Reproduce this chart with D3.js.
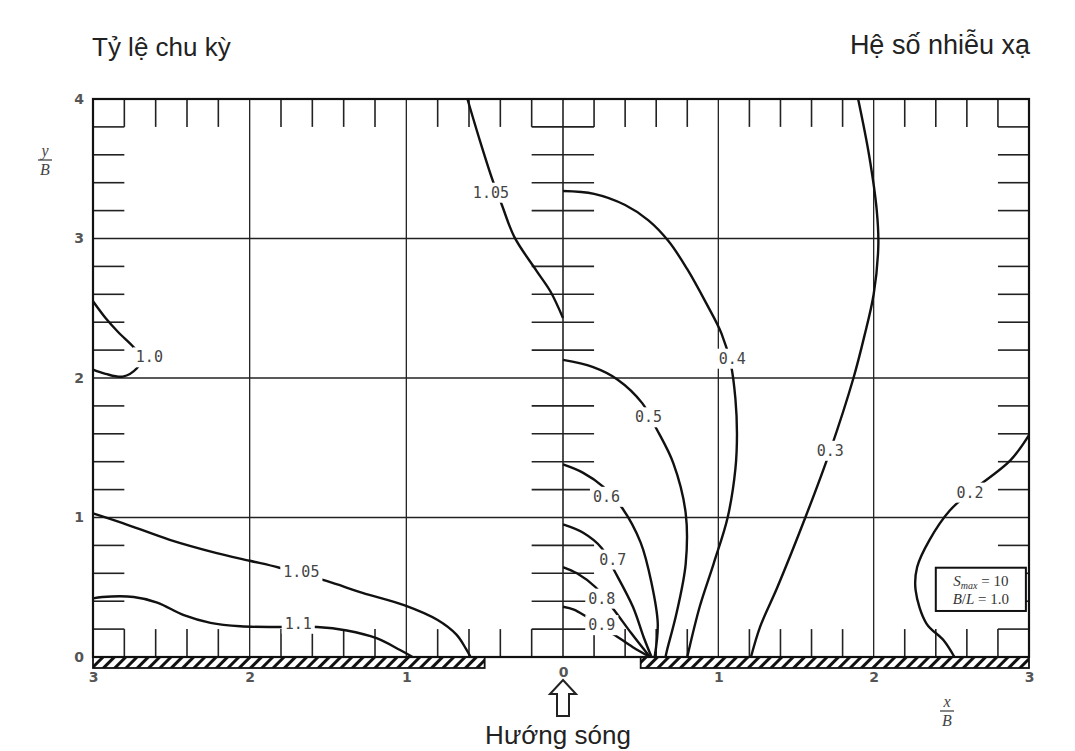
<!DOCTYPE html>
<html>
<head>
<meta charset="utf-8">
<script src="https://cdn.jsdelivr.net/npm/d3@7"></script>
<style>
  body { margin: 0; background: #fff; }
  svg { display: block; }
</style>
</head>
<body>
<script>
// size of the page
var width = 1075
var height = 751

// tick labels
var yTicks = [0, 1, 2, 3, 4]
var xTicks = [-3, -2, -1, 0, 1, 2, 3]

// contour lines (x/B, y/B), left half is negative x
// left half: period ratio
var c105top = [[-0.61,4.0],[-0.53,3.7],[-0.45,3.42],[-0.39,3.24],[-0.31,3.01],[-0.17,2.77],[-0.08,2.62],[0,2.43]]
var c100 = [[-3.0,2.55],[-2.92,2.43],[-2.84,2.33],[-2.74,2.22],[-2.69,2.14],[-2.72,2.07],[-2.81,2.01],[-2.92,2.03],[-3.0,2.06]]
var c105low = [[-3.0,1.03],[-2.81,0.96],[-2.51,0.84],[-2.21,0.745],[-2.0,0.69],[-1.81,0.64],[-1.51,0.545],[-1.28,0.46],[-1.01,0.37],[-0.80,0.265],[-0.68,0.16],[-0.62,0.06],[-0.59,0]]
var c110 = [[-3.0,0.42],[-2.94,0.43],[-2.74,0.43],[-2.59,0.39],[-2.42,0.30],[-2.25,0.245],[-2.06,0.22],[-1.81,0.215],[-1.57,0.215],[-1.38,0.19],[-1.19,0.135],[-1.04,0.05],[-0.96,0]]
// right half: diffraction coefficient
var c04 = [[0,3.34],[0.2,3.32],[0.4,3.24],[0.55,3.13],[0.68,2.98],[0.8,2.78],[0.92,2.54],[1.02,2.32],[1.08,2.1],[1.11,1.85],[1.12,1.6],[1.11,1.35],[1.06,1.0],[0.97,0.67],[0.88,0.36],[0.80,0]]
var c05 = [[0,2.13],[0.19,2.08],[0.35,1.99],[0.51,1.82],[0.60,1.64],[0.71,1.39],[0.79,1.03],[0.79,0.67],[0.73,0.31],[0.67,0.05],[0.66,0]]
var c06 = [[0,1.38],[0.13,1.32],[0.26,1.22],[0.38,1.07],[0.50,0.82],[0.57,0.53],[0.61,0.24],[0.59,0]]
var c07 = [[0,0.95],[0.13,0.89],[0.25,0.78],[0.33,0.62],[0.45,0.36],[0.52,0.14],[0.57,0]]
var c08 = [[0,0.645],[0.09,0.60],[0.21,0.50],[0.32,0.35],[0.44,0.17],[0.56,0]]
var c09 = [[0,0.36],[0.07,0.34],[0.15,0.29],[0.33,0.16],[0.45,0.07],[0.56,0]]
var c03 = [[1.90,4.0],[1.97,3.6],[2.02,3.2],[2.03,2.95],[2.0,2.6],[1.94,2.3],[1.87,2.0],[1.72,1.48],[1.56,1.0],[1.38,0.5],[1.27,0.22],[1.21,0]]
var c02 = [[3.0,1.59],[2.88,1.41],[2.62,1.18],[2.49,1.05],[2.36,0.84],[2.28,0.645],[2.27,0.48],[2.34,0.24],[2.45,0.12],[2.52,0]]

var contours = [c105top, c100, c105low, c110, c04, c05, c06, c07, c08, c09, c03, c02]

// contour labels: text and where it sits
var labelText = ["1.05", "1.0", "1.05", "1.1", "0.4", "0.5", "0.6", "0.7", "0.8", "0.9", "0.3", "0.2"]
var labelPos = [[-0.46,3.33],[-2.64,2.15],[-1.67,0.61],[-1.69,0.24],[1.09,2.14],[0.55,1.72],[0.28,1.15],[0.32,0.70],[0.25,0.42],[0.25,0.23],[1.72,1.48],[2.62,1.18]]

// breakwaters along the bottom (x/B)
var walls = [[-3, -0.5], [0.5, 3]]

var svg = d3.select("body")
  .append("svg")
    .attr("width", width)
    .attr("height", height)

var x = d3.scaleLinear().domain([-3, 0, 3]).range([93, 563, 1029])
var y = d3.scaleLinear().domain([0, 4]).range([657, 99])

// hatch pattern for the breakwaters
svg.append("defs").append("pattern")
    .attr("id", "hatch")
    .attr("patternUnits", "userSpaceOnUse")
    .attr("width", 8).attr("height", 8)
    .attr("patternTransform", "rotate(45)")
  .append("rect")
    .attr("width", 3).attr("height", 8)
    .attr("fill", "#111")

var g = svg.append("g")

// grid
var gx = [-2, -1, 0, 1, 2]
var gy = [1, 2, 3]
g.selectAll(".gv").data(gx).enter().append("line")
    .attr("x1", d => x(d)).attr("x2", d => x(d))
    .attr("y1", y(4)).attr("y2", y(0))
    .attr("stroke", "#222").attr("stroke-width", d => d === 0 ? 1.6 : 1.3)
g.selectAll(".gh").data(gy).enter().append("line")
    .attr("x1", x(-3)).attr("x2", x(3))
    .attr("y1", d => y(d)).attr("y2", d => y(d))
    .attr("stroke", "#222").attr("stroke-width", 1.3)

// ticks every 0.2, length 0.2
var step = 0.2
var tx = d3.range(-2.8, 2.81, step).map(d => Math.round(d * 10) / 10).filter(d => d % 1 !== 0)
var ty = d3.range(0.2, 3.81, step).map(d => Math.round(d * 10) / 10).filter(d => d % 1 !== 0)

var tickStyle = function(sel) { sel.attr("stroke", "#222").attr("stroke-width", 1.6) }

// top and bottom edges
g.selectAll(".tt").data(tx).enter().append("line")
    .attr("x1", d => x(d)).attr("x2", d => x(d))
    .attr("y1", y(4)).attr("y2", y(4 - step)).call(tickStyle)
g.selectAll(".tb").data(tx).enter().append("line")
    .attr("x1", d => x(d)).attr("x2", d => x(d))
    .attr("y1", y(0)).attr("y2", y(step)).call(tickStyle)
// left, right edges and the centre line
g.selectAll(".tl").data(ty).enter().append("line")
    .attr("x1", x(-3)).attr("x2", x(-3 + step))
    .attr("y1", d => y(d)).attr("y2", d => y(d)).call(tickStyle)
g.selectAll(".tr").data(ty).enter().append("line")
    .attr("x1", x(3)).attr("x2", x(3 - step))
    .attr("y1", d => y(d)).attr("y2", d => y(d)).call(tickStyle)
g.selectAll(".tc").data(ty).enter().append("line")
    .attr("x1", x(-step)).attr("x2", x(step))
    .attr("y1", d => y(d)).attr("y2", d => y(d)).call(tickStyle)

// contour lines
var line = d3.line()
  .x(d => x(d[0]))
  .y(d => y(d[1]))
  .curve(d3.curveCatmullRom.alpha(0.5))

g.selectAll(".contour").data(contours).enter().append("path")
    .attr("d", line)
    .attr("fill", "none")
    .attr("stroke", "#111")
    .attr("stroke-width", 2.4)

// labels with white gap behind
var lab = g.selectAll(".lab").data(labelText).enter().append("g")
lab.append("rect")
lab.append("text")
    .attr("x", (d, i) => x(labelPos[i][0]))
    .attr("y", (d, i) => y(labelPos[i][1]))
    .attr("dy", "0.35em")
    .attr("text-anchor", "middle")
    .style("font-family", "'DejaVu Sans Mono', monospace")
    .style("font-size", "15px")
    .style("fill", "#444")
    .text(d => d)
lab.each(function() {
  var t = d3.select(this).select("text")
  var b = t.node().getBBox()
  d3.select(this).select("rect")
    .attr("x", b.x - 3).attr("y", b.y - 1)
    .attr("width", b.width + 6).attr("height", b.height + 2)
    .attr("fill", "#fff")
})

// frame (bottom line runs through the gap)
g.append("rect")
    .attr("x", x(-3)).attr("y", y(4))
    .attr("width", x(3) - x(-3)).attr("height", y(0) - y(4))
    .attr("fill", "none").attr("stroke", "#111").attr("stroke-width", 2.2)

// breakwaters
g.selectAll(".wall").data(walls).enter().append("rect")
    .attr("x", d => x(d[0])).attr("y", y(0))
    .attr("width", d => x(d[1]) - x(d[0])).attr("height", 11)
    .attr("fill", "url(#hatch)")
    .attr("stroke", "#111").attr("stroke-width", 1.8)

// axes labels
var yAxis = svg.append("g")
    .attr("transform", "translate(" + (x(-3) - 9) + ",0)")
    .call(d3.axisLeft(y).tickValues(yTicks).tickSize(0).tickPadding(0).tickFormat(d3.format("d")))
yAxis.select(".domain").remove()
yAxis.selectAll("text")
    .style("font-family", "'DejaVu Sans', sans-serif")
    .style("font-weight", "bold")
    .style("font-size", "14px")
    .style("fill", "#555")

var xAxis = svg.append("g")
    .attr("transform", "translate(0," + (y(0) + 15) + ")")
    .call(d3.axisBottom(x).tickValues(xTicks).tickSize(0).tickPadding(0).tickFormat(d => Math.abs(d)))
xAxis.select(".domain").remove()
xAxis.selectAll("text")
    .style("font-family", "'DejaVu Sans', sans-serif")
    .style("font-weight", "bold")
    .style("font-size", "14px")
    .style("fill", "#555")
xAxis.selectAll(".tick").filter(d => d === 0).select("text").attr("y", -5)

// fraction labels y/B and x/B
function fraction(cx, cy, top) {
  var f = svg.append("g").style("font-family", "'Liberation Serif', serif").style("font-style", "italic")
    .style("font-size", "16px").style("fill", "#444").attr("text-anchor", "middle")
  f.append("text").attr("x", cx).attr("y", cy - 4).text(top)
  f.append("line").attr("x1", cx - 7).attr("x2", cx + 7).attr("y1", cy).attr("y2", cy)
    .attr("stroke", "#444").attr("stroke-width", 1.3)
  f.append("text").attr("x", cx).attr("y", cy + 15).text("B")
}
fraction(45, 160, "y")
fraction(947, 711, "x")

// parameter box
var box = svg.append("g")
box.append("rect")
    .attr("x", x(2.4)).attr("y", y(0.64))
    .attr("width", x(2.98) - x(2.4)).attr("height", y(0.33) - y(0.64))
    .attr("fill", "#fff").attr("stroke", "#111").attr("stroke-width", 2)
var bt = box.append("text")
    .attr("x", (x(2.4) + x(2.98)) / 2).attr("y", y(0.64) + 18)
    .attr("text-anchor", "middle")
    .style("font-family", "'Liberation Serif', serif").style("font-size", "15px").style("fill", "#333")
bt.append("tspan").style("font-style", "italic").text("S")
bt.append("tspan").style("font-style", "italic").style("font-size", "10px").attr("dy", 3).text("max")
bt.append("tspan").attr("dy", -3).text(" = 10")
box.append("text")
    .attr("x", (x(2.4) + x(2.98)) / 2).attr("y", y(0.64) + 36)
    .attr("text-anchor", "middle")
    .style("font-family", "'Liberation Serif', serif").style("font-size", "15px").style("fill", "#333")
    .html("<tspan font-style='italic'>B</tspan>/<tspan font-style='italic'>L</tspan> = 1.0")

// titles
var titleFont = "'Liberation Sans', Arial, sans-serif"
svg.append("text").attr("x", 92).attr("y", 56)
    .style("font-family", titleFont).style("font-size", "26px").style("fill", "#222")
    .text("Tỷ lệ chu kỳ")
svg.append("text").attr("x", 1030).attr("y", 54).attr("text-anchor", "end")
    .style("font-family", titleFont).style("font-size", "27px").style("fill", "#222")
    .text("Hệ số nhiễu xạ")
svg.append("text").attr("x", 558).attr("y", 744).attr("text-anchor", "middle")
    .style("font-family", titleFont).style("font-size", "26px").style("fill", "#222")
    .text("Hướng sóng")

// wave direction arrow
var ax = x(0)
svg.append("path")
    .attr("d", d3.line()([[ax, 680], [ax + 13, 694], [ax + 6, 694], [ax + 6, 716], [ax - 6, 716], [ax - 6, 694], [ax - 13, 694]]) + "Z")
    .attr("fill", "#fff").attr("stroke", "#222").attr("stroke-width", 2)
</script>
</body>
</html>
